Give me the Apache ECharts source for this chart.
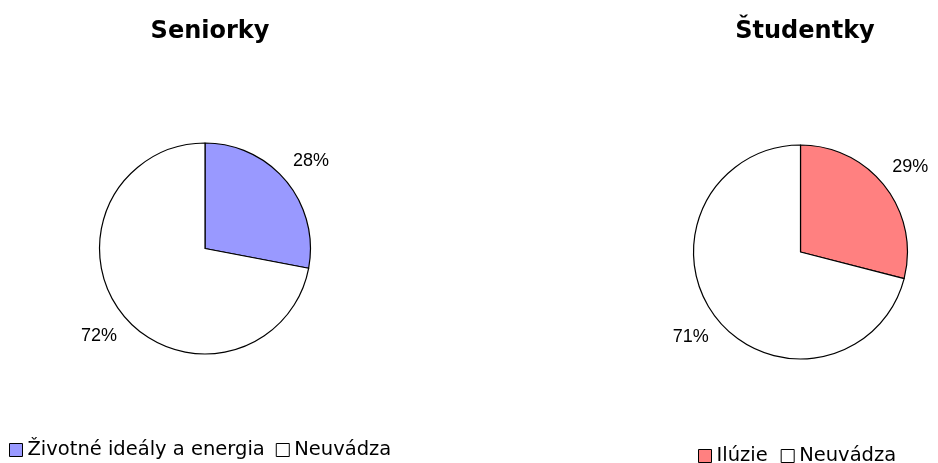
<!DOCTYPE html>
<html>
<head>
<meta charset="utf-8">
<script src="https://cdn.jsdelivr.net/npm/echarts@6/dist/echarts.min.js"></script>
<style>
  html, body { margin: 0; padding: 0; background: #ffffff; }
  #chart { width: 938px; height: 463px; }
</style>
</head>
<body>
<div id="chart"></div>
<script>
// Two share pies: seniors vs. students
const chartTitles = ['Seniorky', 'Študentky'];

const seniorCategories = ['Životné ideály a energia', 'Neuvádza'];
const seniorValues = [28, 72];
const seniorColors = ['#9999FF', '#FFFFFF'];

const studentCategories = ['Ilúzie', 'Neuvádza'];
const studentValues = [29, 71];
const studentColors = ['#FF8080', '#FFFFFF'];

const FONT = '"DejaVu Sans", "Liberation Sans", Arial, sans-serif';
const LABEL_FONT = '"Liberation Sans", Arial, sans-serif';

function pieData(categories, values, colors) {
  return categories.map((name, i) => ({
    name: name,
    value: values[i],
    itemStyle: { color: colors[i] }
  }));
}

function pieSeries(categories, values, colors, center, radius) {
  return {
    type: 'pie',
    center: center,
    radius: radius,
    startAngle: 90,
    clockwise: true,
    avoidLabelOverlap: false,
    animation: false,
    itemStyle: { borderColor: '#000000', borderWidth: 1.2 },
    label: {
      show: true,
      position: 'outside',
      formatter: '{d}%',
      fontFamily: LABEL_FONT,
      fontSize: 18,
      color: '#000000',
      distanceToLabelLine: 0
    },
    labelLine: { show: false, length: 32, length2: 0 },
    labelLayout: function () {
      return { align: 'center', verticalAlign: 'middle' };
    },
    emphasis: { disabled: true },
    data: pieData(categories, values, colors)
  };
}

const legendText = { fontFamily: FONT, fontSize: 19.5, color: '#000000' };
const legendIconStyle = { borderColor: '#000000', borderWidth: 1 };

const option = {
  backgroundColor: '#ffffff',
  animation: false,
  title: [
    {
      text: chartTitles[0],
      left: 205, top: 15, textAlign: 'center',
      textStyle: { fontFamily: FONT, fontSize: 24, fontWeight: 'bold', color: '#000000' }
    },
    {
      text: chartTitles[1],
      left: 800, top: 15, textAlign: 'center',
      textStyle: { fontFamily: FONT, fontSize: 24, fontWeight: 'bold', color: '#000000' }
    }
  ],
  legend: [
    {
      data: seniorCategories,
      left: 9, top: 440,
      padding: 0,
      orient: 'horizontal',
      icon: 'rect',
      itemWidth: 13, itemHeight: 13,
      itemGap: 11,
      selectedMode: false,
      itemStyle: legendIconStyle,
      textStyle: legendText
    },
    {
      data: studentCategories,
      left: 698, top: 446,
      padding: 0,
      orient: 'horizontal',
      icon: 'rect',
      itemWidth: 13, itemHeight: 13,
      itemGap: 13,
      selectedMode: false,
      itemStyle: legendIconStyle,
      textStyle: legendText
    }
  ],
  series: [
    pieSeries(seniorCategories, seniorValues, seniorColors, [205, 248.5], 105.5),
    pieSeries(studentCategories, studentValues, studentColors, [800.5, 252], 107)
  ]
};

const chart = echarts.init(document.getElementById('chart'), null, { renderer: 'canvas' });
chart.setOption(option);
</script>
</body>
</html>
